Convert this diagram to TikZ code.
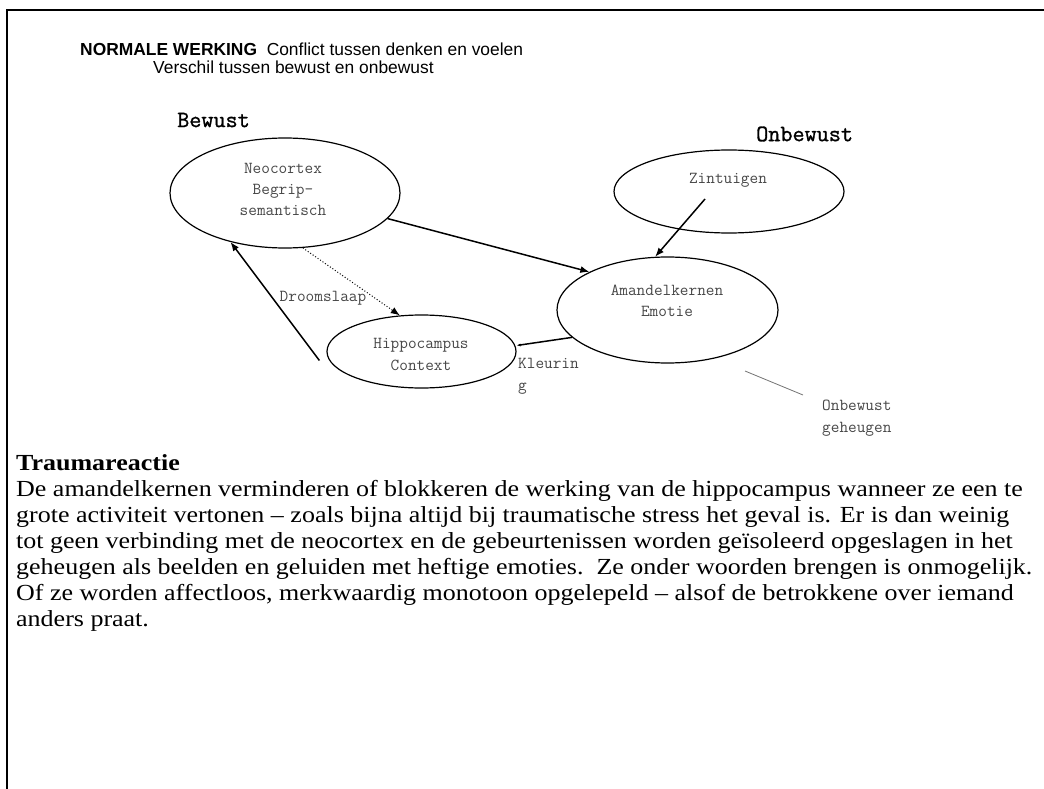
\documentclass[tikz,border=0pt]{standalone}
\usepackage{fontspec}
\newfontfamily\headfont{Liberation Sans}
\newfontfamily\bodyfont[FakeStretch=1.13]{Liberation Serif}
\newfontfamily\zonefont[FakeBold=1.2]{Latin Modern Mono}
\usetikzlibrary{shapes.geometric,arrows.meta}
\begin{document}
\begin{tikzpicture}[x=1pt,y=-1pt,
  region/.style={draw,ellipse,line width=1.2pt,inner sep=0pt},
  mono/.style={font=\ttfamily\fontsize{16.8}{21}\selectfont,text=black!72,align=center,inner sep=0pt},
  zone/.style={font=\zonefont\fontsize{23.5}{25}\selectfont,inner sep=0pt,anchor=west},
  headline/.style={anchor=west,inner sep=0pt,font=\headfont\fontsize{17.4}{19}\selectfont},
  prose/.style={anchor=base west,inner sep=0pt,align=left,font=\bodyfont\fontsize{23}{26}\selectfont},
  link/.style={line width=1.5pt,-{Latex[length=9pt,width=7pt]}},
]
\useasboundingbox (0,0) rectangle (1044,789);
% page frame (left and top rules)
\draw[line width=2.4pt] (7,789) -- (7,10) -- (1044,10);

% header
\node[headline] (head1) at (80,49)
  {\textbf{NORMALE WERKING}\ \ Conflict tussen denken en voelen};
\node[headline] (head2) at (153,67)
  {Verschil tussen bewust en onbewust};

% zone titles
\node[zone] (bew) at (177,120) {Bewust};
\node[zone] (onbew) at (756,134) {Onbewust};

% brain regions
\node[region,minimum width=230pt,minimum height=110pt] (neo) at (285,193) {};
\node[region,minimum width=189pt,minimum height=73pt] (hip) at (421.5,351.5) {};
\node[region,minimum width=221pt,minimum height=106pt] (amy) at (667.5,310) {};
\node[region,minimum width=230pt,minimum height=83pt] (zin) at (729,191.5) {};

\node[mono] (neotext) at (283,189) {Neocortex\\Begrip-\\semantisch};
\node[mono,font=\ttfamily\fontsize{16.8}{22}\selectfont] (hiptext) at (421,354) {Hippocampus\\Context};
\node[mono] (amytext) at (667,300.5) {Amandelkernen\\Emotie};
\node[mono] (zintext) at (728,180) {Zintuigen};

% connector labels (base anchor sits on the last line)
\node[mono] (dream) at (323,298) {Droomslaap};
\node[mono,anchor=base west,align=left,font=\ttfamily\fontsize{16.8}{22}\selectfont] (tint) at (518,390) {Kleurin\\g};
\node[mono,anchor=base west,align=left,font=\ttfamily\fontsize{16.8}{22}\selectfont] (memtext) at (822,432) {Onbewust\\geheugen};

% connectors
\coordinate (zinsrc) at (705,199);
\coordinate (memfrom) at (745,371);
\coordinate (memto) at (803,395);
\draw[link] (neo.-14) -- (amy.154);
\draw[link] (zinsrc) -- (amy.103);
\draw[link] ([xshift=-7pt,yshift=-9pt]hip.west) -- (neo.222);
\draw[link,line width=1pt,dotted] (neo.-72) -- (hip.121);
\draw[line width=1.5pt,-{Latex[length=4pt,width=3pt]}] (amy.196) -- ([yshift=6pt]hip.east);
\draw[black!55,line width=0.8pt] (memfrom) -- (memto);

% explanatory text
\node[prose,font=\bodyfont\bfseries\fontsize{23}{26}\selectfont] (trauma) at (16,470)
  {Traumareactie};
\node[prose] (body) at (16,626)
  {De amandelkernen verminderen of blokkeren de werking van de hippocampus wanneer ze een te\\
   grote activiteit vertonen – zoals bijna altijd bij traumatische stress het geval is. Er is dan weinig\\
   tot geen verbinding met de neocortex en de gebeurtenissen worden geïsoleerd opgeslagen in het\\
   geheugen als beelden en geluiden met heftige emoties.\ \ Ze onder woorden brengen is onmogelijk.\\
   Of ze worden affectloos, merkwaardig monotoon opgelepeld – alsof de betrokkene over iemand\\
   anders praat.};
\end{tikzpicture}
\end{document}
